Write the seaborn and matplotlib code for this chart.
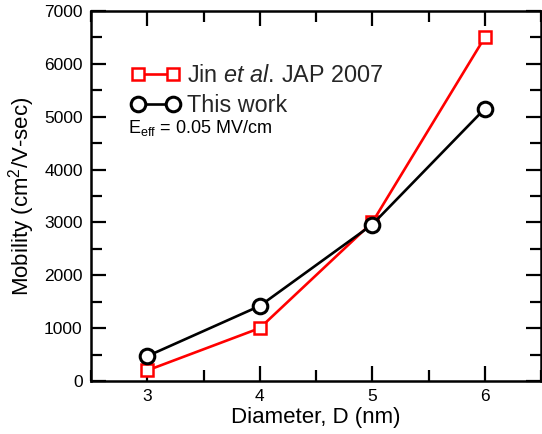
import matplotlib
matplotlib.use("Agg")
import matplotlib.pyplot as plt
from matplotlib.ticker import MultipleLocator
import seaborn as sns
import pandas as pd

# Nanowire diameter (nm) and low-field mobility (cm^2/V-s)
diameter = [3, 4, 5, 6]
mobility_jin = [200, 1000, 3000, 6500]
mobility_this = [470, 1420, 2960, 5150]

label_jin = r"Jin $\mathit{et\ al.}\,$JAP 2007"
label_this = "This work"
x_ticks = [3, 4, 5, 6]
y_ticks = [0, 1000, 2000, 3000, 4000, 5000, 6000, 7000]

sns.set_theme(style="ticks")
plt.rcParams["font.family"] = ["Liberation Sans", "DejaVu Sans"]
plt.rcParams["mathtext.fontset"] = "custom"
plt.rcParams["mathtext.rm"] = "Liberation Sans"
plt.rcParams["mathtext.it"] = "Liberation Sans:italic"
plt.rcParams["mathtext.bf"] = "Liberation Sans:bold"

df_jin = pd.DataFrame({"D": diameter, "mu": mobility_jin})
df_this = pd.DataFrame({"D": diameter, "mu": mobility_this})

fig = plt.figure(figsize=(5.42, 4.34), dpi=100)
ax = fig.add_axes([91 / 542, 53 / 434, 450 / 542, 370 / 434])

sns.lineplot(data=df_jin, x="D", y="mu", ax=ax, color="#ff0000", marker="s",
             markersize=9, markerfacecolor="white", markeredgecolor="#ff0000",
             markeredgewidth=1.8, linewidth=1.9, label=label_jin)
sns.lineplot(data=df_this, x="D", y="mu", ax=ax, color="black", marker="o",
             markersize=10.5, markerfacecolor="white", markeredgecolor="black",
             markeredgewidth=2.2, linewidth=1.9, label=label_this)

ax.set_xlim(2.5, 6.5)
ax.set_ylim(0, 7000)
ax.set_xticks(x_ticks)
ax.set_yticks(y_ticks)
ax.xaxis.set_minor_locator(MultipleLocator(0.5))
ax.yaxis.set_minor_locator(MultipleLocator(500))
ax.tick_params(which="both", direction="in", top=True, right=True,
               width=1.6, color="black", labelsize=12.5, labelcolor="black")
ax.tick_params(which="major", length=11, pad=6)
ax.tick_params(which="minor", length=8)
for sp in ax.spines.values():
    sp.set_linewidth(1.8)
    sp.set_color("black")

ax.set_xlabel("Diameter, D (nm)", fontsize=16, labelpad=2, color="black")
ax.set_ylabel(r"Mobility (cm$^\mathregular{2}$/V-sec)", fontsize=16, labelpad=5,
              color="black")

ax.legend(loc="upper left", bbox_to_anchor=(0.089, 0.857), frameon=False,
          fontsize=16.8, numpoints=2, handlelength=2.1, handletextpad=0.3,
          borderpad=0, borderaxespad=0, labelspacing=0.3)

ax.text(0.082, 0.684, r"E$_\mathregular{eff}$ = 0.05 MV/cm", transform=ax.transAxes,
        fontsize=13, va="center", ha="left", color="black")

fig.savefig("out.png", dpi=100)
